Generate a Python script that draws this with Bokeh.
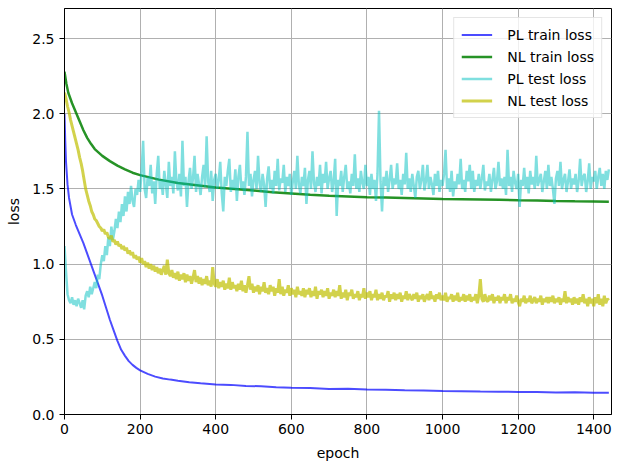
from bokeh.plotting import figure
from bokeh.models import Range1d, FixedTicker, PrintfTickFormatter, Legend
from bokeh.embed import file_html
from bokeh.resources import INLINE

# ---- data ----
series_names = ["PL train loss", "NL train loss", "PL test loss", "NL test loss"]
x_ticks = [0, 200, 400, 600, 800, 1000, 1200, 1400]
y_ticks = [0.0, 0.5, 1.0, 1.5, 2.0, 2.5]

pl_train_epoch = [0, 2, 4, 8, 12, 20, 30, 40, 50, 60, 70, 80, 90, 100, 110, 120, 130, 140, 150, 160,
                  170, 180, 190, 200, 220, 240, 260, 280, 300, 330, 360, 400, 440, 480, 520, 560, 600,
                  650, 700, 750, 800, 850, 900, 950, 1000, 1050, 1100, 1150, 1200, 1250, 1300, 1350,
                  1400, 1440]
pl_train_loss = [2.0, 1.82, 1.68, 1.53, 1.44, 1.33, 1.26, 1.2, 1.14, 1.07, 1.0, 0.93, 0.86, 0.79, 0.71,
                 0.63, 0.56, 0.49, 0.43, 0.39, 0.355, 0.33, 0.31, 0.293, 0.27, 0.252, 0.24, 0.232, 0.225,
                 0.215, 0.208, 0.2, 0.197, 0.19, 0.188, 0.182, 0.178, 0.176, 0.17, 0.172, 0.166, 0.165,
                 0.162, 0.16, 0.157, 0.155, 0.153, 0.152, 0.15, 0.149, 0.147, 0.148, 0.145, 0.145]

nl_train_epoch = [0, 5, 10, 20, 30, 40, 50, 60, 70, 80, 100, 120, 140, 160, 180, 200, 250, 300, 350,
                  400, 450, 500, 550, 600, 650, 700, 750, 800, 850, 900, 950, 1000, 1050, 1100, 1150,
                  1200, 1250, 1300, 1350, 1400, 1440]
nl_train_loss = [2.28, 2.2, 2.14, 2.07, 2.01, 1.95, 1.89, 1.84, 1.8, 1.765, 1.72, 1.685, 1.655, 1.63,
                 1.608, 1.592, 1.562, 1.54, 1.525, 1.51, 1.5, 1.49, 1.478, 1.47, 1.462, 1.455, 1.45,
                 1.445, 1.443, 1.44, 1.437, 1.433, 1.432, 1.43, 1.428, 1.425, 1.423, 1.42, 1.418,
                 1.417, 1.415]

# test losses read every 4 epochs (0 .. 1440)
pl_test_loss = [
    1.12, 0.95, 0.80, 0.76, 0.74, 0.78, 0.73, 0.76, 0.72, 0.77,
    0.74, 0.71, 0.76, 0.70, 0.79, 0.82, 0.78, 0.85, 0.80, 0.84,
    0.88, 0.84, 0.93, 0.90, 1.00, 1.06, 1.02, 1.12, 1.06, 1.18,
    1.12, 1.25, 1.16, 1.22, 1.30, 1.24, 1.35, 1.28, 1.40, 1.32,
    1.45, 1.35, 1.48, 1.40, 1.52, 1.42, 1.38, 1.50, 1.46, 1.56,
    1.48, 1.62, 1.82, 1.50, 1.44, 1.58, 1.52, 1.66, 1.47, 1.55,
    1.40, 1.60, 1.72, 1.50, 1.56, 1.46, 1.62, 1.53, 1.44, 1.68,
    1.52, 1.58, 1.47, 1.75, 1.55, 1.49, 1.60, 1.45, 1.82, 1.52,
    1.58, 1.38, 1.55, 1.64, 1.50, 1.57, 1.72, 1.48, 1.60, 1.53,
    1.46, 1.58, 1.66, 1.51, 1.85, 1.55, 1.48, 1.62, 1.42, 1.56,
    1.60, 1.50, 1.56, 1.68, 1.47, 1.35, 1.58, 1.52, 1.62, 1.70,
    1.48, 1.56, 1.50, 1.63, 1.42, 1.58, 1.66, 1.50, 1.55, 1.46,
    1.58, 1.88, 1.52, 1.60, 1.45, 1.56, 1.62, 1.50, 1.72, 1.54,
    1.48, 1.60, 1.53, 1.38, 1.57, 1.65, 1.50, 1.56, 1.47, 1.62,
    1.52, 1.70, 1.49, 1.57, 1.54, 1.66, 1.48, 1.58, 1.52, 1.60,
    1.46, 1.55, 1.62, 1.50, 1.72, 1.53, 1.47, 1.58, 1.52, 1.64,
    1.40, 1.56, 1.62, 1.50, 1.75, 1.54, 1.48, 1.58, 1.52, 1.66,
    1.47, 1.60, 1.54, 1.68, 1.50, 1.57, 1.62, 1.48, 1.55, 1.70,
    1.32, 1.56, 1.52, 1.62, 1.48, 1.58, 1.66, 1.50, 1.55, 1.47,
    1.60, 1.52, 1.73, 1.50, 1.57, 1.48, 1.62, 1.54, 1.50, 1.66,
    1.52, 1.58, 1.46, 1.60, 1.50, 1.56, 1.42, 1.60, 2.02, 1.55,
    1.35, 1.58, 1.52, 1.62, 1.48, 1.56, 1.66, 1.50, 1.57, 1.53,
    1.67, 1.50, 1.56, 1.46, 1.60, 1.53, 1.74, 1.50, 1.57, 1.48,
    1.60, 1.52, 1.44, 1.58, 1.62, 1.50, 1.56, 1.66, 1.49, 1.55,
    1.66, 1.50, 1.58, 1.53, 1.46, 1.60, 1.52, 1.62, 1.48, 1.56,
    1.52, 1.60, 1.76, 1.50, 1.57, 1.48, 1.62, 1.45, 1.55, 1.50,
    1.60, 1.53, 1.70, 1.50, 1.56, 1.48, 1.62, 1.55, 1.66, 1.50,
    1.62, 1.48, 1.56, 1.52, 1.60, 1.50, 1.57, 1.66, 1.49, 1.55,
    1.52, 1.60, 1.48, 1.56, 1.64, 1.50, 1.55, 1.68, 1.52, 1.57,
    1.50, 1.58, 1.46, 1.76, 1.52, 1.58, 1.48, 1.62, 1.54, 1.50,
    1.60, 1.38, 1.56, 1.52, 1.64, 1.50, 1.58, 1.47, 1.62, 1.53,
    1.58, 1.50, 1.72, 1.52, 1.56, 1.60, 1.48, 1.55, 1.62, 1.50,
    1.66, 1.52, 1.58, 1.50, 1.40, 1.57, 1.62, 1.52, 1.68, 1.50,
    1.56, 1.60, 1.48, 1.55, 1.63, 1.50, 1.57, 1.53, 1.60, 1.48,
    1.55, 1.70, 1.52, 1.58, 1.60, 1.48, 1.55, 1.67, 1.50, 1.58,
    1.55, 1.62, 1.50, 1.58, 1.64, 1.52, 1.60, 1.50, 1.62, 1.56,
    1.63]

nl_test_loss = [
    2.14, 2.10, 2.05, 2.01, 1.96, 1.92, 1.88, 1.84, 1.80, 1.76,
    1.71, 1.67, 1.62, 1.56, 1.50, 1.46, 1.42, 1.39, 1.35, 1.33,
    1.30, 1.29, 1.27, 1.25, 1.24, 1.22, 1.23, 1.20, 1.21, 1.18,
    1.17, 1.19, 1.15, 1.16, 1.13, 1.15, 1.12, 1.13, 1.10, 1.12,
    1.09, 1.11, 1.07, 1.09, 1.06, 1.08, 1.04, 1.06, 1.03, 1.05,
    1.01, 1.04, 1.00, 1.02, 0.98, 1.01, 0.97, 1.00, 0.96, 0.99,
    0.95, 0.98, 0.94, 0.97, 0.93, 0.96, 0.99, 0.93, 1.03, 0.94,
    0.92, 0.96, 0.91, 0.94, 0.90, 0.95, 0.89, 0.93, 0.90, 0.94,
    0.88, 0.93, 0.89, 0.92, 0.87, 0.91, 0.96, 0.88, 0.92, 0.87,
    0.91, 0.86, 0.90, 0.87, 0.92, 0.86, 0.89, 0.85, 0.98, 0.87,
    0.85, 0.90, 0.84, 0.88, 0.85, 0.89, 0.83, 0.87, 0.84, 0.91,
    0.83, 0.88, 0.84, 0.86, 0.82, 0.87, 0.83, 0.89, 0.82, 0.86,
    0.81, 0.86, 0.92, 0.83, 0.87, 0.81, 0.85, 0.82, 0.86, 0.80,
    0.85, 0.82, 0.88, 0.81, 0.84, 0.80, 0.86, 0.82, 0.85, 0.79,
    0.84, 0.81, 0.90, 0.80, 0.85, 0.79, 0.83, 0.81, 0.86, 0.79,
    0.84, 0.80, 0.83, 0.78, 0.85, 0.80, 0.82, 0.79, 0.84, 0.78,
    0.83, 0.80, 0.84, 0.78, 0.82, 0.79, 0.85, 0.77, 0.82, 0.80,
    0.83, 0.78, 0.82, 0.79, 0.84, 0.77, 0.81, 0.79, 0.83, 0.78,
    0.82, 0.79, 0.86, 0.77, 0.81, 0.78, 0.83, 0.76, 0.81, 0.79,
    0.83, 0.77, 0.80, 0.78, 0.82, 0.76, 0.80, 0.78, 0.84, 0.77,
    0.81, 0.78, 0.82, 0.76, 0.80, 0.78, 0.83, 0.76, 0.80, 0.77,
    0.81, 0.76, 0.79, 0.78, 0.82, 0.75, 0.80, 0.77, 0.81, 0.76,
    0.80, 0.77, 0.81, 0.75, 0.79, 0.77, 0.82, 0.76, 0.80, 0.78,
    0.76, 0.80, 0.77, 0.81, 0.75, 0.79, 0.77, 0.80, 0.75, 0.78,
    0.80, 0.76, 0.82, 0.77, 0.79, 0.75, 0.80, 0.77, 0.81, 0.76,
    0.79, 0.76, 0.81, 0.75, 0.78, 0.77, 0.80, 0.75, 0.79, 0.76,
    0.81, 0.75, 0.78, 0.76, 0.80, 0.75, 0.79, 0.76, 0.80, 0.75,
    0.78, 0.76, 0.80, 0.74, 0.79, 0.90, 0.77, 0.75, 0.80, 0.76,
    0.75, 0.79, 0.76, 0.80, 0.74, 0.78, 0.76, 0.79, 0.74, 0.78,
    0.76, 0.80, 0.74, 0.78, 0.76, 0.80, 0.74, 0.77, 0.75, 0.79,
    0.75, 0.72, 0.77, 0.75, 0.79, 0.74, 0.77, 0.75, 0.79, 0.74,
    0.76, 0.78, 0.74, 0.77, 0.75, 0.79, 0.73, 0.77, 0.75, 0.78,
    0.74, 0.78, 0.75, 0.79, 0.74, 0.77, 0.75, 0.78, 0.73, 0.77,
    0.75, 0.82, 0.74, 0.78, 0.75, 0.77, 0.73, 0.78, 0.74, 0.77,
    0.73, 0.78, 0.75, 0.80, 0.74, 0.77, 0.72, 0.78, 0.74, 0.77,
    0.72, 0.78, 0.74, 0.80, 0.73, 0.77, 0.72, 0.79, 0.74, 0.77,
    0.76]

test_step = 4
pl_test_epoch = list(range(0, test_step * len(pl_test_loss), test_step))
nl_test_epoch = list(range(0, test_step * len(nl_test_loss), test_step))

# ---- figure ----
FONT = "DejaVu Sans"
FS = "14px"
p = figure(width=617, height=467, output_backend="svg", toolbar_location=None,
           x_range=Range1d(0, 1447), y_range=Range1d(0, 2.7),
           min_border_left=64, min_border_right=6, min_border_top=8, min_border_bottom=53)
p.background_fill_color = "white"
p.border_fill_color = "white"
p.outline_line_color = "black"
p.outline_line_width = 1

r1 = p.line(pl_train_epoch, pl_train_loss, line_color="blue", line_alpha=0.7, line_width=2)
r2 = p.line(nl_train_epoch, nl_train_loss, line_color="#008000", line_alpha=0.85, line_width=2.5)
r3 = p.line(pl_test_epoch, pl_test_loss, line_color="#00bfbf", line_alpha=0.5, line_width=2.5)
r4 = p.line(nl_test_epoch, nl_test_loss, line_color="#bfbf00", line_alpha=0.7, line_width=3)

for ax in (p.xaxis[0], p.yaxis[0]):
    ax.axis_line_color = "black"
    ax.major_tick_line_color = "black"
    ax.major_tick_out = 5
    ax.major_tick_in = 0
    ax.minor_tick_line_color = None
    ax.major_label_text_font = FONT
    ax.major_label_text_font_size = FS
    ax.major_label_text_color = "black"
    ax.axis_label_text_font = FONT
    ax.axis_label_text_font_size = FS
    ax.axis_label_text_font_style = "normal"
    ax.axis_label_text_color = "black"

p.xaxis.ticker = FixedTicker(ticks=x_ticks)
p.yaxis.ticker = FixedTicker(ticks=y_ticks)
p.yaxis.formatter = PrintfTickFormatter(format="%.1f")
p.xaxis.axis_label = "epoch"
p.yaxis.axis_label = "loss"
p.xaxis.major_label_standoff = 4
p.yaxis.major_label_standoff = 5
p.xaxis.axis_label_standoff = 8
p.yaxis.axis_label_standoff = 7

p.grid.grid_line_color = "#b0b0b0"
p.grid.grid_line_width = 1

legend = Legend(items=[(series_names[0], [r1]), (series_names[1], [r2]),
                       (series_names[2], [r3]), (series_names[3], [r4])],
                location="top_right")
legend.label_text_font = FONT
legend.label_text_font_size = FS
legend.label_text_color = "black"
legend.glyph_width = 31
legend.glyph_height = 19
legend.label_height = 19
legend.label_standoff = 15
legend.spacing = 3
legend.padding = 7
legend.margin = 9
legend.border_line_color = "#cccccc"
legend.border_line_width = 1
legend.background_fill_color = "white"
legend.background_fill_alpha = 0.8
p.add_layout(legend)

open("out.html", "w").write(file_html(p, INLINE))
